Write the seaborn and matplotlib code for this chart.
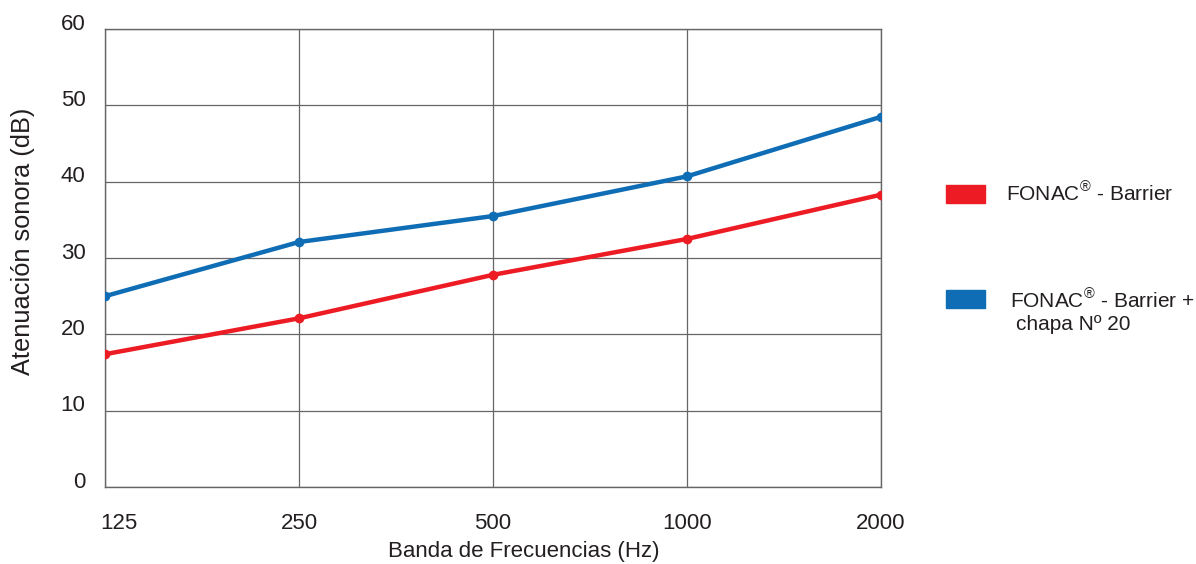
import pandas as pd
import seaborn as sns
from matplotlib import pyplot as plt
from matplotlib.patches import Rectangle
from matplotlib.transforms import ScaledTranslation

# values
bands = ['125', '250', '500', '1000', '2000']
barrier = [17.4, 22.1, 27.8, 32.5, 38.3]
barrier_chapa = [25.0, 32.1, 35.5, 40.7, 48.5]
y_ticks = [0, 10, 20, 30, 40, 50, 60]

RED = '#ED1C24'
BLUE = '#0F6DB5'
GRID = '#666666'
TXT = '#231f20'

df = pd.DataFrame({
    'pos': list(range(len(bands))) * 2,
    'value': barrier + barrier_chapa,
    'serie': ['barrier'] * len(bands) + ['chapa'] * len(bands),
})

sns.set_style('white')
plt.rcParams['font.family'] = ['Liberation Sans', 'DejaVu Sans']

fig = plt.figure(figsize=(11.96, 5.64), dpi=100)
ax = fig.add_axes([0.0878, 0.1365, 0.6488, 0.812])

sns.lineplot(
    data=df, x='pos', y='value', hue='serie',
    palette={'barrier': RED, 'chapa': BLUE},
    marker='o', markersize=7, markeredgewidth=0,
    linewidth=3.2, legend=False, ax=ax, zorder=3,
)

ax.set_xlim(0, len(bands) - 1)
ax.set_ylim(0, 60)
ax.set_xticks(range(len(bands)))
ax.set_xticklabels(bands, fontsize=16)
ax.set_yticks(y_ticks)
ax.set_yticklabels([str(t) for t in y_ticks], fontsize=16)
ax.tick_params(axis='both', length=0, colors=TXT)
ax.tick_params(axis='x', pad=19)
ax.tick_params(axis='y', pad=14)
up = ScaledTranslation(0, 5 / 100, fig.dpi_scale_trans)
for lab in ax.get_yticklabels():
    lab.set_va('center')
    lab.set_transform(lab.get_transform() + up)
first = ax.get_xticklabels()[0]
first.set_ha('left')
first.set_transform(first.get_transform() + ScaledTranslation(-5 / 100, 0, fig.dpi_scale_trans))

ax.grid(True, color=GRID, linewidth=0.9)
ax.set_axisbelow(True)
for s in ax.spines.values():
    s.set_color(GRID)
    s.set_linewidth(1.0)

ax.set_xlabel('')
ax.set_ylabel('')
fig.text(0.019, 1 - 241 / 564, 'Atenuación sonora (dB)', rotation=90,
         ha='center', va='center', fontsize=18.3, color=TXT)
fig.text(524 / 1196, 7 / 564, 'Banda de Frecuencias (Hz)', ha='center', va='baseline',
         fontsize=16, color=TXT)

# legend drawn by hand to the right of the plot
W, H = 1196, 564
fig.patches.append(Rectangle((946 / W, 1 - 203 / H), 39 / W, 18 / H,
                             transform=fig.transFigure, color=RED))
fig.patches.append(Rectangle((946 / W, 1 - 308 / H), 39 / W, 18 / H,
                             transform=fig.transFigure, color=BLUE))
fig.text(1006 / W, 1 - 201 / H, r'FONAC$^{\mathregular{®}}$ - Barrier',
         fontsize=15, va='baseline', color=TXT)
fig.text(1010 / W, 1 - 308 / H, r'FONAC$^{\mathregular{®}}$ - Barrier +',
         fontsize=15, va='baseline', color=TXT)
fig.text(1016 / W, 1 - 330 / H, 'chapa Nº 20',
         fontsize=15, va='baseline', color=TXT)

plt.savefig('out.png', dpi=100)
